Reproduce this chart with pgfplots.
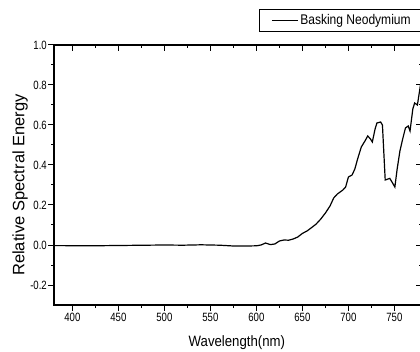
\documentclass[border=0pt]{standalone}
\usepackage{fontspec}
\setmainfont{Liberation Sans}
\newfontfamily\tickfont[FakeStretch=0.8]{Liberation Sans}
\newfontfamily\labfont[FakeStretch=0.88]{Liberation Sans}
\newfontfamily\legfont[FakeStretch=0.86]{Liberation Sans}
\usepackage{pgfplots}
\usepackage{pgfplotstable}
\pgfplotsset{compat=1.18}

\pgfplotstableread{
x y
380 -0.003
390 -0.003
400 -0.004
420 -0.004
440 -0.003
460 -0.002
480 -0.001
500 0.000
520 -0.001
540 0.001
560 -0.001
575 -0.005
590 -0.005
600 -0.004
605 0.000
610 0.010
615 0.002
620 0.005
625 0.020
630 0.025
635 0.024
640 0.030
645 0.040
650 0.058
655 0.070
660 0.087
665 0.105
670 0.130
675 0.160
680 0.195
684 0.235
688 0.255
694 0.275
697 0.290
700 0.340
704 0.350
707 0.380
710 0.430
714 0.490
718 0.520
721 0.545
724 0.530
726 0.515
729 0.580
731 0.610
735 0.615
737 0.600
740 0.325
745 0.333
748 0.310
750.5 0.290
753 0.380
756 0.470
759 0.530
762 0.585
765 0.595
767 0.570
770 0.680
772 0.710
775 0.700
777 0.760
779 0.820
780 0.830
}\spectrum

\pgfplotsset{
  commonax/.style={
    at={(54pt,46pt)}, anchor=south west,
    scale only axis, width=368pt, height=260pt,
    xmin=380, xmax=780, ymin=-0.3, ymax=1.0,
    xtick={400,450,500,550,600,650,700,750},
    ytick={-0.2,0,0.2,0.4,0.6,0.8,1.0},
    minor x tick num=1, minor y tick num=1,
    major tick length=6pt, minor tick length=3pt,
    axis line style={line width=1.3pt},
    every tick/.style={black, line width=1pt},
  }
}

\begin{document}
\begin{tikzpicture}
\path[use as bounding box] (0,0) rectangle (420pt,351pt);
\clip (0,0) rectangle (420pt,351pt);
\begin{axis}[commonax,
  tick align=outside, xtick pos=bottom, ytick pos=left,
  xticklabels={400,450,500,550,600,650,700,750},
  yticklabels={-0.2,0.0,0.2,0.4,0.6,0.8,1.0},
  xticklabel style={font=\tickfont\fontsize{12}{12}\selectfont, inner sep=2pt},
  yticklabel style={font=\tickfont\fontsize{12}{12}\selectfont, inner sep=1pt},
  xlabel={Wavelength(nm)},
  ylabel={Relative Spectral Energy},
  xlabel style={font=\labfont\fontsize{15}{15}\selectfont, at={(axis description cs:0.497,-0.146)}, anchor=center},
  ylabel style={font=\fontsize{16.5}{16.5}\selectfont, at={(axis description cs:-0.0924,0.4615)}, anchor=center},
  legend style={at={(axis description cs:0.557,1.05)}, anchor=south west,
    draw=black, line width=0.8pt, font=\legfont\fontsize{14}{14}\selectfont,
    inner xsep=12pt, inner ysep=3.5pt},
  legend image code/.code={\draw[black, line width=0.9pt] (0pt,0pt) -- (26pt,0pt);},
]
\addplot[black, line width=1.2pt] table[x=x, y=y] {\spectrum};
\addlegendentry{Basking Neodymium}
\end{axis}
\begin{axis}[commonax,
  tick align=inside, xtick pos=top, ytick pos=right,
  xticklabels={}, yticklabels={},
]
\end{axis}
\end{tikzpicture}
\end{document}
